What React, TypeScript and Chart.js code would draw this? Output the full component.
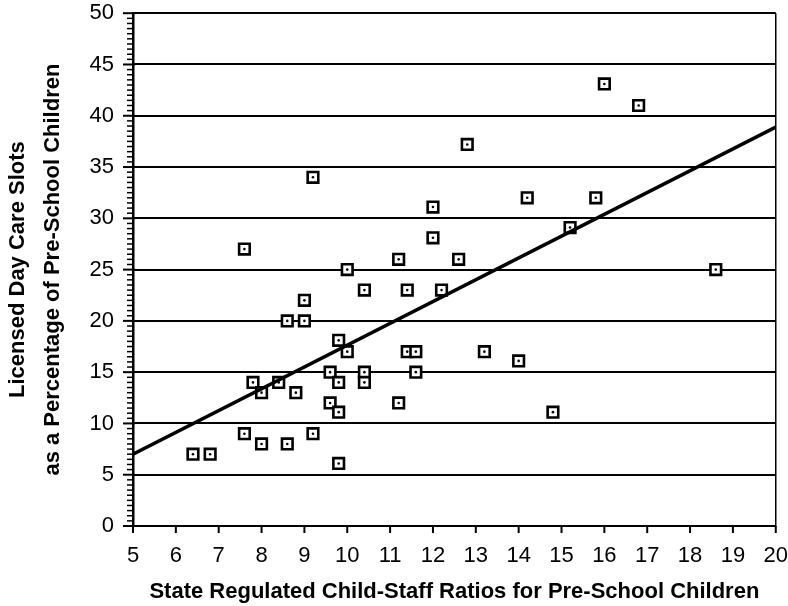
import React, { useEffect, useRef } from "react";
import { Chart, registerables } from "chart.js";

Chart.register(...registerables);

// Scatter data: child-staff ratio (x) vs licensed slots % (y)
const ratioX = [
  6.4, 6.8, 7.6, 7.6, 7.8, 8, 8, 8.4, 8.6, 8.6, 8.8, 9, 9, 9.2, 9.2, 9.6, 9.6,
  9.8, 9.8, 9.8, 9.8, 10, 10, 10.4, 10.4, 10.4, 11.2, 11.2, 11.4, 11.4, 11.6,
  11.6, 12, 12, 12.2, 12.6, 12.8, 13.2, 14, 14.2, 14.8, 15.2, 15.8, 16, 16.8,
  18.6,
];
const slotsY = [
  7, 7, 27, 9, 14, 13, 8, 14, 20, 8, 13, 22, 20, 34, 9, 15, 12, 18.1, 14, 11.1,
  6.1, 25, 17, 23, 15, 14, 26, 12, 23, 17, 17, 15, 31.1, 28.1, 23, 26, 37.2, 17,
  16.1, 32, 11.1, 29.1, 32, 43.1, 41, 25,
];

// Regression line end points
const fitX = [5, 20];
const fitY = [7.0, 38.9];

// Axis settings
const X_MIN = 5;
const X_MAX = 20;
const X_STEP = 1;
const Y_MIN = 0;
const Y_MAX = 50;
const Y_MAJOR = 5;
const Y_MINOR = 0.5;

const xTitle = "State Regulated Child-Staff Ratios for Pre-School Children";
const yTitle = ["Licensed Day Care Slots", "as a Percentage of Pre-School Children"];

const FONT = "'Liberation Sans', Arial, Helvetica, sans-serif";

const tickMarkPlugin = {
  id: "tickMarks",
  afterDraw(chart: any) {
    const y = chart.scales.y;
    const x = chart.scales.x;
    const ctx = chart.ctx;
    const { left, bottom } = chart.chartArea;
    ctx.save();
    ctx.strokeStyle = "#000";
    const n = Math.round((Y_MAX - Y_MIN) / Y_MINOR);
    for (let i = 0; i <= n; i++) {
      const v = Y_MIN + i * Y_MINOR;
      const p = y.getPixelForValue(v);
      const major = Math.abs(v / Y_MAJOR - Math.round(v / Y_MAJOR)) < 1e-6;
      ctx.lineWidth = major ? 2 : 1.5;
      ctx.beginPath();
      ctx.moveTo(left - (major ? 10 : 6), p);
      ctx.lineTo(left + (major ? 2 : 0), p);
      ctx.stroke();
    }
    const m = Math.round((X_MAX - X_MIN) / X_STEP);
    ctx.lineWidth = 2;
    for (let i = 0; i <= m; i++) {
      const p = x.getPixelForValue(X_MIN + i * X_STEP);
      ctx.beginPath();
      ctx.moveTo(p, bottom);
      ctx.lineTo(p, bottom + 7);
      ctx.stroke();
    }
    ctx.restore();
  },
};

export default function App() {
  const ref = useRef<HTMLCanvasElement>(null);

  useEffect(() => {
    document.body.style.margin = "0";
    const pts = ratioX.map((x, i) => ({ x, y: slotsY[i] }));
    const fit = fitX.map((x, i) => ({ x, y: fitY[i] }));
    const chart = new Chart(ref.current as HTMLCanvasElement, {
      type: "scatter",
      data: {
        datasets: [
          {
            data: fit,
            showLine: true,
            borderColor: "#000",
            borderWidth: 3.5,
            pointRadius: 0,
            pointHoverRadius: 0,
          } as any,
          {
            data: pts,
            pointStyle: "circle",
            pointRadius: 1.3,
            backgroundColor: "#000",
            borderColor: "#000",
            borderWidth: 0,
          },
          {
            data: pts,
            pointStyle: "rect",
            pointRadius: 7.5,
            backgroundColor: "#fff",
            borderColor: "#000",
            borderWidth: 2.6,
          },
        ],
      },
      options: {
        animation: false,
        responsive: false,
        layout: { padding: { left: 0, right: 11, top: 12, bottom: 0 } },
        plugins: {
          legend: { display: false },
          tooltip: { enabled: false },
        },
        scales: {
          x: {
            type: "linear",
            min: X_MIN,
            max: X_MAX,
            afterFit: (s: any) => {
              s.height = 80;
            },
            ticks: {
              stepSize: X_STEP,
              color: "#000",
              padding: 0,
              font: { family: FONT, size: 22 },
            },
            grid: {
              drawOnChartArea: true,
              color: (c: any) => (c.tick && c.tick.value === X_MAX ? "#000" : "rgba(0,0,0,0)"),
              lineWidth: 1.5,
              tickColor: "rgba(0,0,0,0)",
              tickLength: 17,
            },
            border: { display: true, color: "#000", width: 2 },
            title: {
              display: true,
              text: xTitle,
              color: "#000",
              font: { family: FONT, size: 22, weight: "bold" },
              padding: { top: 0, bottom: 1 },
            },
          },
          y: {
            type: "linear",
            min: Y_MIN,
            max: Y_MAX,
            afterFit: (s: any) => {
              s.width = 133;
            },
            ticks: {
              stepSize: Y_MAJOR,
              color: "#000",
              padding: 0,
              font: { family: FONT, size: 22 },
            },
            grid: {
              color: "#000",
              lineWidth: 2,
              tickColor: "rgba(0,0,0,0)",
              tickLength: 19,
            },
            border: { display: true, color: "#000", width: 2.5 },
            title: {
              display: true,
              text: yTitle,
              color: "#000",
              font: { family: FONT, size: 22, weight: "bold", lineHeight: 1.6 },
              padding: { top: 0, bottom: 0 },
            },
          },
        },
      },
      plugins: [tickMarkPlugin],
    });
    return () => chart.destroy();
  }, []);

  return (
    <div style={{ width: 788, height: 606 }}>
      <canvas ref={ref} width={788} height={606} />
    </div>
  );
}
